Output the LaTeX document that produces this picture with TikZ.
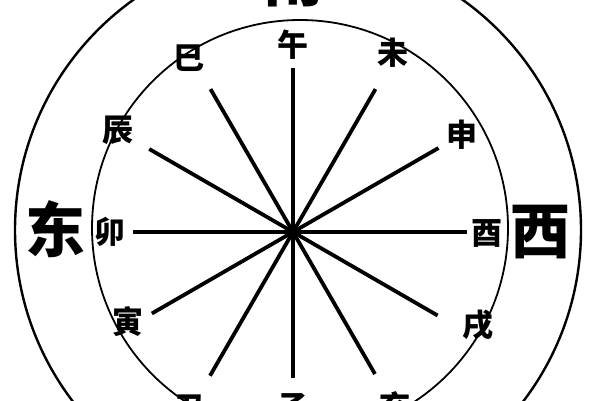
\documentclass[tikz,border=0pt]{standalone}
\usepackage{fontspec}
\newfontfamily\cjk{Noto Sans CJK SC}
\usepackage{tikz}

\tikzset{
  branch/.style={inner sep=0pt, font=\cjk\bfseries\fontsize{31}{31}\selectfont},
  quarter/.style={inner sep=0pt, font=\cjk\bfseries\fontsize{60}{60}\selectfont},
  spoke/.style={line width=3.8pt},
  ring/.style={line width=1.8pt}
}

\begin{document}
\begin{tikzpicture}[x=1pt, y=1pt]
    \clip (0,0) rectangle (600,400);
    \fill [white] (0,0) rectangle (600,400);

    % Rings
    \draw [ring, line width=2.4pt] 	(298,170) circle (283);
    \draw [ring] 			(300,172) circle (208);

    % Nodes {zi, chou, yin, etc}
    \coordinate (o) at (293,168);
    \node [branch] 	(wu)   at (293,355)  {午};
    \node [branch] 	(wei)  at (393,347)  {未};
    \node [branch] 	(si)   at (189,342)  {巳};
    \node [branch] 	(chen) at (118,270)  {辰};
    \node [branch] 	(shen) at (462,265)  {申};
    \node [branch] 	(mao)  at (110,168)  {卯};
    \node [branch] 	(you)  at (487,167)  {酉};
    \node [branch] 	(yin)  at (128,78)   {寅};
    \node [branch] 	(xu)   at (478,75)   {戌};
    \node [branch] 	(chou) at (190,-9)   {丑};
    \node [branch] 	(zi)   at (293,-7)   {子};
    \node [branch] 	(hai)  at (395,-6)   {亥};

    \node [quarter] 	(dong) at (55,171)   {东};
    \node [quarter] 	(xi)   at (540,168)  {西};
    \node [quarter] 	(nan)  at (293,421)  {南};

    % Spokes
    \foreach \a/\r in {0/174, 30/168, 60/165, 90/164, 120/165, 150/166,
                       180/160, 210/163, 240/166, 270/146, 300/164, 330/167} {
        \path (o) ++(\a:\r) coordinate (s\a);
        \draw [spoke] (o) -- (s\a);
    }

\end{tikzpicture}
\end{document}
